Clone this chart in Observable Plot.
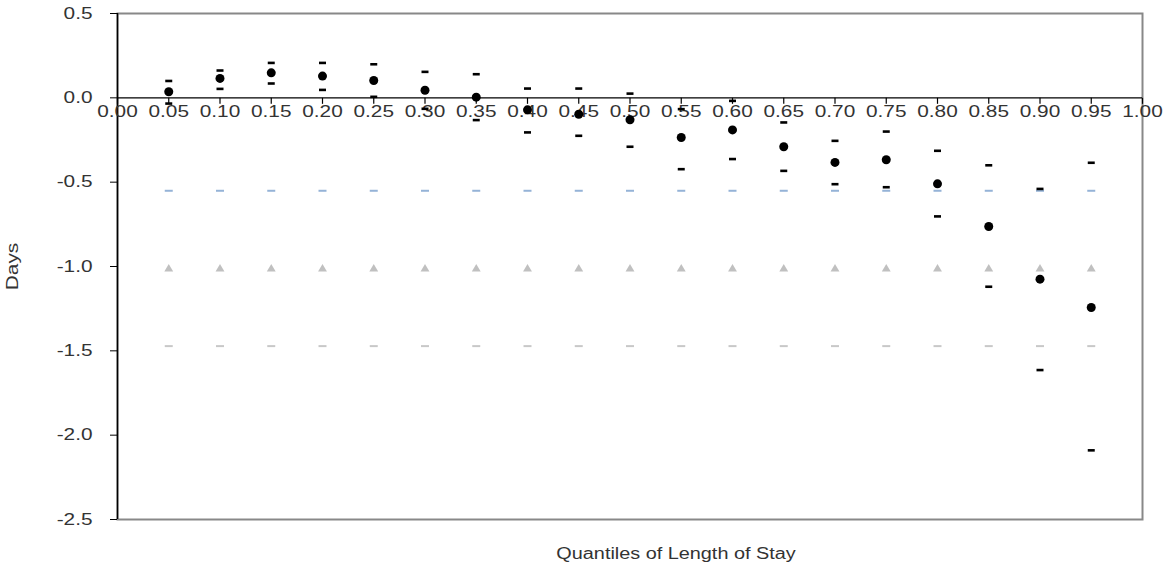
<!DOCTYPE html>
<html><head><meta charset="utf-8">
<script src="https://cdn.jsdelivr.net/npm/d3@7"></script>
<script src="https://cdn.jsdelivr.net/npm/@observablehq/plot@0.6"></script>
<style>body{margin:0;background:#fff;overflow:hidden}</style>
</head><body><div id="chart"></div>
<script>
const quantiles = [0.05,0.10,0.15,0.20,0.25,0.30,0.35,0.40,0.45,0.50,0.55,0.60,0.65,0.70,0.75,0.80,0.85,0.90,0.95];
const estimate = [0.036,0.115,0.148,0.129,0.103,0.045,0.004,-0.071,-0.097,-0.13,-0.235,-0.19,-0.29,-0.383,-0.367,-0.51,-0.763,-1.075,-1.243];
const upper = [0.10,0.162,0.207,0.207,0.199,0.154,0.14,0.055,0.055,0.025,-0.067,-0.018,-0.146,-0.255,-0.2,-0.314,-0.40,-0.54,-0.385];
const lower = [-0.034,0.053,0.085,0.047,0.006,-0.065,-0.132,-0.205,-0.225,-0.29,-0.423,-0.363,-0.433,-0.512,-0.53,-0.703,-1.12,-1.614,-2.09];
const refBlue = [-0.551,-0.551,-0.551,-0.551,-0.551,-0.551,-0.551,-0.551,-0.551,-0.551,-0.551,-0.551,-0.551,-0.551,-0.551,-0.551,-0.551,-0.551,-0.551];
const refTriangle = [-1.015,-1.015,-1.015,-1.015,-1.015,-1.015,-1.015,-1.015,-1.015,-1.015,-1.015,-1.015,-1.015,-1.015,-1.015,-1.015,-1.015,-1.015,-1.015];
const refGray = [-1.472,-1.472,-1.472,-1.472,-1.472,-1.472,-1.472,-1.472,-1.472,-1.472,-1.472,-1.472,-1.472,-1.472,-1.472,-1.472,-1.472,-1.472,-1.472];
const xTicks = [0.00,0.05,0.10,0.15,0.20,0.25,0.30,0.35,0.40,0.45,0.50,0.55,0.60,0.65,0.70,0.75,0.80,0.85,0.90,0.95,1.00];
const yTicks = [0.5,0.0,-0.5,-1.0,-1.5,-2.0,-2.5];

const rows = quantiles.map((q, i) => ({q, est: estimate[i], up: upper[i], lo: lower[i], blue: refBlue[i], tri: refTriangle[i], gray: refGray[i]}));

const dash = (w, h) => ({draw(ctx) { ctx.rect(-w / 2, -h / 2, w, h); }});
const tickDown = {draw(ctx) { ctx.moveTo(0, 0); ctx.lineTo(0, 6); }};

const chart = Plot.plot({
  width: 1163, height: 563,
  marginLeft: 117, marginRight: 21, marginTop: 13, marginBottom: 44,
  x: {domain: [0, 1], axis: null},
  y: {domain: [-2.5, 0.5]},
  style: {fontFamily: "'Liberation Sans', Arial, sans-serif", fontSize: "16px", color: "#333", background: "white"},
  marks: [
    Plot.frame({stroke: "#888", strokeWidth: 2}),
    Plot.axisY(yTicks, {anchor: "left", tickSize: 7, tickPadding: 18, tickFormat: d => d.toFixed(1), label: null, fontSize: 16, stroke: "black", fill: "#333"}),
    Plot.ruleX([0], {stroke: "black", strokeWidth: 1.5}),
    Plot.ruleY([0], {stroke: "black", strokeWidth: 1.2}),
    Plot.dot(xTicks, {x: d => d, y: () => 0, symbol: tickDown, stroke: "black", fill: "none", strokeWidth: 1.2}),
    Plot.text(xTicks, {x: d => d, y: () => 0, text: d => d.toFixed(2), dy: 14, lineAnchor: "middle", fontSize: 16, fill: "#333"}),
    Plot.text(["Days"], {frameAnchor: "left", dx: -105, rotate: -90, textAnchor: "middle", lineAnchor: "middle", fontSize: 16, fill: "#333"}),
    Plot.text(["Quantiles of Length of Stay"], {frameAnchor: "bottom", dx: 46, dy: 34, lineAnchor: "middle", textAnchor: "middle", fontSize: 16, fill: "#333"}),
    Plot.dot(rows, {x: "q", y: "blue", symbol: dash(8, 2), fill: "#95B3D7", stroke: "none"}),
    Plot.dot(rows, {x: "q", y: "tri", symbol: "triangle", r: 3.3, fill: "#C0C0C0", stroke: "none"}),
    Plot.dot(rows, {x: "q", y: "gray", symbol: dash(8, 2), fill: "#C8C8C8", stroke: "none"}),
    Plot.dot(rows, {x: "q", y: "up", symbol: dash(7, 2.6), fill: "black", stroke: "none"}),
    Plot.dot(rows, {x: "q", y: "lo", symbol: dash(7, 2.6), fill: "black", stroke: "none"}),
    Plot.dot(rows, {x: "q", y: "est", r: 4.5, fill: "black", stroke: "none"})
  ]
});
document.getElementById("chart").append(chart);
chart.querySelectorAll("text").forEach(t => {
  const L = t.getComputedTextLength();
  if (L > 0) {
    const f = t.textContent.length > 10 ? 1.24 : 1.3;
    t.setAttribute("textLength", L * f);
    t.setAttribute("lengthAdjust", "spacingAndGlyphs");
  }
});
</script>
</body></html>
